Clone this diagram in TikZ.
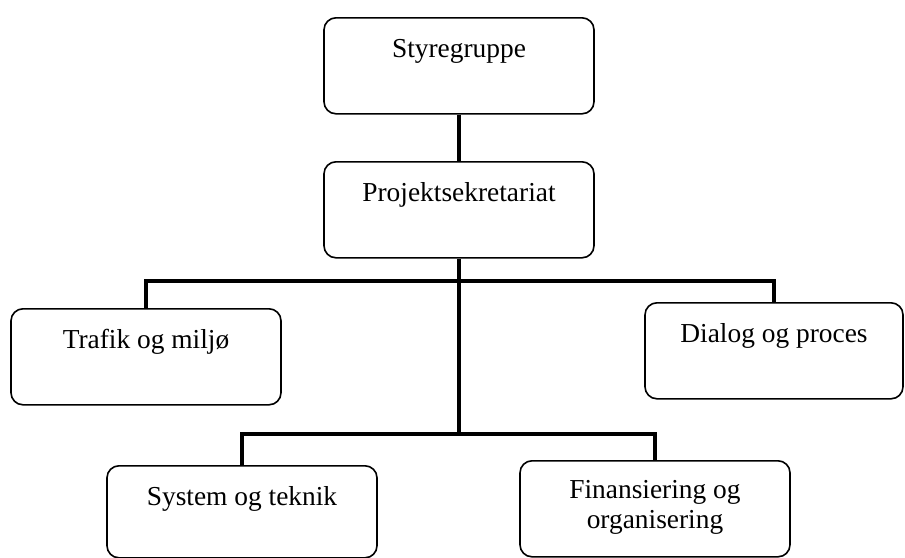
\documentclass[tikz,border=0pt]{standalone}
\usepackage{fontspec}
\setmainfont{Liberation Serif}
\usetikzlibrary{positioning}
\tikzset{
  unit/.style={draw, rounded corners=6pt, line width=0.8pt, anchor=north,
    minimum width=135pt, inner xsep=2pt, inner ysep=0pt,
    text height=20pt, text depth=28pt, align=center,
    font=\fontsize{13.7}{15}\selectfont},
  link/.style={line width=1.6pt}
}
\begin{document}
\begin{tikzpicture}[x=0.5pt, y=-0.5pt]
        \useasboundingbox (0,0) rectangle (905,557);
        %nodes
        \node[unit] (styre) at (459, 17) {Styregruppe};
        \node[unit] (proj) at (459, 161) {Projektsekretariat};
        \node[unit] (traf) at (146, 308) {Trafik og milj\o};
        \node[unit, minimum width=129pt] (dial) at (774, 302) {Dialog og proces};
        \node[unit, text depth=26pt] (sys) at (242, 465) {System og teknik};
        \node[unit, text height=34pt, text depth=14pt] (fin) at (655, 460) {Finansiering og\\organisering};
        \coordinate (topbus) at (459, 281);
        \coordinate (lowbus) at (459, 434);
        %edges
        \path [draw,link] (styre) -- (proj);
        \path [draw,link] (proj.south) -- (lowbus);
        \path [draw,link] (traf.north) |- (topbus) -| (dial.north);
        \path [draw,link] (sys.north) |- (lowbus) -| (fin.north);
      \end{tikzpicture}
\end{document}
